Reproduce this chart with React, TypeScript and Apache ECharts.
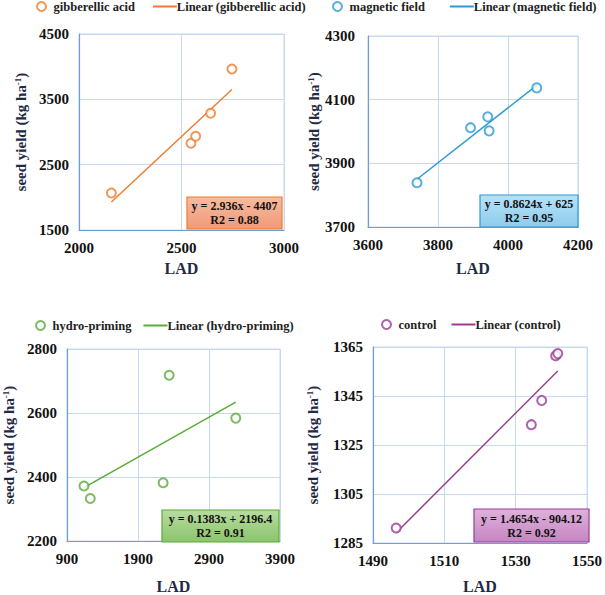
import React, { useEffect, useRef } from "react";
import * as echarts from "echarts";

const FONT = "Liberation Serif";

// Panel 1: gibberellic acid
const gaLAD = [2158, 2546, 2569, 2642, 2746];
const gaYield = [2066, 2827, 2934, 3286, 3964];
const gaTrend = [[2158, 1929], [2746, 3650]];
// Panel 2: magnetic field
const mfLAD = [3740, 3893, 3942, 3946, 4082];
const mfYield = [3839, 4012, 4046, 4002, 4137];
const mfTrend = [[3740, 3850], [4082, 4145]];
// Panel 3: hydro-priming
const hpLAD = [1139, 1228, 2254, 2339, 3277];
const hpYield = [2372, 2333, 2382, 2718, 2584];
const hpTrend = [[1139, 2367], [3277, 2634]];
// Panel 4: control
const ctLAD = [1496.5, 1534.4, 1537.3, 1541.2, 1541.8];
const ctYield = [1291.1, 1333.3, 1343.2, 1361.4, 1362.3];
const ctTrend = [[1496.5, 1289.2], [1541.8, 1355.2]];

const names = ["gibberellic acid", "magnetic field", "hydro-priming", "control"];
const equations = ["y = 2.936x - 4407", "y = 0.8624x + 625", "y = 0.1383x + 2196.4", "y = 1.4654x - 904.12"];
const r2 = ["R2 = 0.88", "R2 = 0.95", "R2 = 0.91", "R2 = 0.92"];
const xRanges = [[2000, 3000, 500], [3600, 4200, 200], [900, 3900, 1000], [1490, 1550, 20]];
const yRanges = [[1500, 4500, 1000], [3700, 4300, 200], [2200, 2800, 200], [1285, 1365, 20]];

const colors = ["#ED7D31", "#2E9AD5", "#5BAA3A", "#9A3A96"];
const boxFill = [["#F7BBA0", "#EF9A78"], ["#B8E2F7", "#8DCCEE"], ["#B7DC9F", "#8CC46C"], ["#DFB2DC", "#C585C1"]];

const grids = [
  { left: 79, top: 34, width: 205, height: 196 },
  { left: 368, top: 36, width: 210, height: 191 },
  { left: 67, top: 349, width: 213, height: 197 },
  { left: 373, top: 347, width: 216, height: 199 },
];
const yNameGap = [51, 47, 51, 53];
const xNameGap = [30, 33, 37, 35];
const yLabelMargin = [10, 13, 10, 10];
const legendPos = [
  { left: 36, top: 0, gap: 18 },
  { left: 332, top: 0, gap: 25 },
  { left: 35, top: 319, gap: 12 },
  { left: 381, top: 318, gap: 15 },
];
const boxes = [
  { x: 187, y: 197, w: 95, h: 32 },
  { x: 480, y: 195, w: 98, h: 32 },
  { x: 162, y: 510, w: 117, h: 32 },
  { x: 474, y: 509, w: 115, h: 33 },
];

const points = [
  gaLAD.map((x, i) => [x, gaYield[i]]),
  mfLAD.map((x, i) => [x, mfYield[i]]),
  hpLAD.map((x, i) => [x, hpYield[i]]),
  ctLAD.map((x, i) => [x, ctYield[i]]),
];
const trends = [gaTrend, mfTrend, hpTrend, ctTrend];

export default function App() {
  const ref = useRef<HTMLDivElement>(null);
  useEffect(() => {
    if (!ref.current) return;
    const chart = echarts.init(ref.current, null, { renderer: "svg" });
    const labelStyle = {
      fontFamily: FONT,
      fontWeight: "bold",
      fontSize: 15,
      color: "#111111",
      formatter: (v: number) => String(v),
    };
    const nameColor = "#1F2A44";
    const option: any = {
      animation: false,
      backgroundColor: "#ffffff",
      grid: grids.map((g) => ({ ...g, show: true, borderColor: "#C6D9F0", borderWidth: 1, containLabel: false })),
      xAxis: grids.map((_, i) => ({
        type: "value",
        gridIndex: i,
        min: xRanges[i][0],
        max: xRanges[i][1],
        interval: xRanges[i][2],
        name: "LAD",
        nameLocation: "middle",
        nameGap: xNameGap[i],
        nameTextStyle: { fontFamily: FONT, fontWeight: "bold", fontSize: 16, color: nameColor },
        axisLine: { show: true, lineStyle: { color: "#6A9FD8", width: 1.2 } },
        axisTick: { show: false },
        axisLabel: { ...labelStyle, margin: 10 },
        splitLine: { show: true, lineStyle: { color: "#C6D9F0", width: 1 } },
      })),
      yAxis: grids.map((_, i) => ({
        type: "value",
        gridIndex: i,
        min: yRanges[i][0],
        max: yRanges[i][1],
        interval: yRanges[i][2],
        name: "{a|seed yield (kg ha}{b|-1}{a|)}",
        nameLocation: "middle",
        nameGap: yNameGap[i],
        nameRotate: 90,
        nameTextStyle: {
          rich: {
            a: { fontFamily: FONT, fontWeight: "bold", fontSize: 15, color: nameColor },
            b: { fontFamily: FONT, fontWeight: "bold", fontSize: 9, color: nameColor, verticalAlign: "top", lineHeight: 10 },
          },
        },
        axisLine: { show: true, lineStyle: { color: "#6A9FD8", width: 1.2 } },
        axisTick: { show: false },
        axisLabel: { ...labelStyle, margin: yLabelMargin[i] },
        splitLine: { show: true, lineStyle: { color: "#C6D9F0", width: 1 } },
      })),
      legend: grids.map((_, i) => ({
        data: [
          { name: names[i], icon: "emptyCircle" },
          { name: "Linear (" + names[i] + ")", icon: "path://M0,0 L24,0 L24,2 L0,2 Z" },
        ],
        left: legendPos[i].left,
        top: legendPos[i].top,
        padding: 0,
        width: 300,
        itemWidth: 24,
        itemHeight: 9,
        itemGap: legendPos[i].gap,
        textStyle: { fontFamily: FONT, fontWeight: "bold", fontSize: 12.5, color: "#222222", padding: [0, 0, 0, -5] },
      })),
      series: grids.flatMap((_, i) => [
        {
          type: "scatter",
          name: names[i],
          xAxisIndex: i,
          yAxisIndex: i,
          data: points[i],
          symbol: "emptyCircle",
          symbolSize: 9,
          itemStyle: { color: colors[i], borderColor: colors[i], borderWidth: 1.5 },
          z: 3,
        },
        {
          type: "line",
          name: "Linear (" + names[i] + ")",
          xAxisIndex: i,
          yAxisIndex: i,
          data: trends[i],
          symbol: "none",
          showSymbol: false,
          lineStyle: { color: colors[i], width: 1.5 },
          itemStyle: { color: colors[i] },
          z: 2,
        },
      ]),
      graphic: boxes.flatMap((b, i) => [
        {
          type: "rect",
          shape: { x: b.x, y: b.y, width: b.w, height: b.h },
          style: {
            fill: new echarts.graphic.LinearGradient(0, 0, 0, 1, [
              { offset: 0, color: boxFill[i][0] },
              { offset: 1, color: boxFill[i][1] },
            ]),
            stroke: colors[i],
            lineWidth: 1.2,
          },
          z: 10,
        },
        {
          type: "text",
          x: b.x + b.w / 2,
          y: b.y + b.h / 2 - 7,
          style: {
            text: equations[i],
            textAlign: "center",
            textVerticalAlign: "middle",
            fontFamily: FONT,
            fontWeight: "bold",
            fontSize: 12,
            fill: "#111111",
          },
          z: 11,
        },
        {
          type: "text",
          x: b.x + b.w / 2,
          y: b.y + b.h / 2 + 7,
          style: {
            text: r2[i],
            textAlign: "center",
            textVerticalAlign: "middle",
            fontFamily: FONT,
            fontWeight: "bold",
            fontSize: 12,
            fill: "#111111",
          },
          z: 11,
        },
      ]),
    };
    chart.setOption(option);
    return () => chart.dispose();
  }, []);
  return (
    <div
      ref={ref}
      style={{ position: "absolute", left: 0, top: 0, width: 605, height: 595 }}
    />
  );
}
